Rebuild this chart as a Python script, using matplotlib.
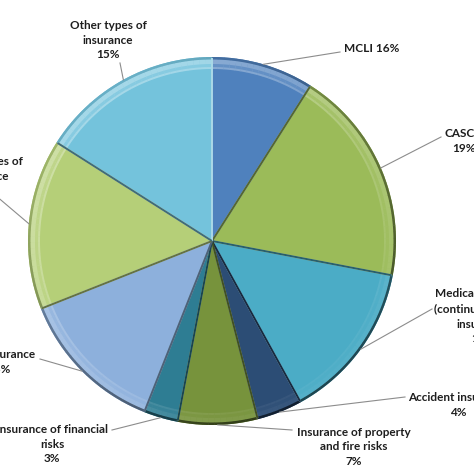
import matplotlib
matplotlib.use("Agg")
import matplotlib.pyplot as plt
from matplotlib.patches import Wedge
import matplotlib.colors as mcolors
import numpy as np

# ---- data ----
categories = ["MCLI", "CASCO", "Medical insurance", "Accident insurance",
              "Insurance of property and fire risks", "Insurance of financial risks",
              "Life insurance", "Other types of insurance (2)", "Other types of insurance"]
shares = [9, 19, 14, 4, 7, 3, 13, 15, 16]
label_texts = ["MCLI 16%",
               "CASCO\n19%",
               "Medical insurance\n(continuous health\ninsurance)\n14%",
               "Accident insurance\n4%",
               "Insurance of property\nand fire risks\n7%",
               "Insurance of financial\nrisks\n3%",
               "Life insurance\n13%",
               "Other types of\ninsurance\n9%",
               "Other types of\ninsurance\n15%"]
colors = ["#4F81BD", "#9BBB59", "#4BACC6", "#2C4D75", "#77933C",
          "#2E7D93", "#8DB0DC", "#B5CF78", "#74C3DC"]

# ---- layout (image pixel coordinates, y downward) ----
W = 474
CX, CY, R = 212, 241, 184
label_pos = [(372, 48), (464, 141), (483, 316), (458, 405), (354, 447),
             (52, 444), (-1, 362), (-16, 176), (108, 40)]
leader_end = [(340, 52), (441, 137), (432, 309), (405, 397), (292, 430),
              (112, 430), (40, 359), (-5, 195), (120, 63)]

fig = plt.figure(figsize=(4.74, 4.74), dpi=100)
ax = fig.add_axes([0, 0, 1, 1])

def Y(y):
    return W - y

def shade(c, f):
    rgb = np.array(mcolors.to_rgb(c))
    if f > 0:
        return tuple(rgb + (1 - rgb) * f)
    return tuple(rgb * (1 + f))

wedges, _ = ax.pie(shares, startangle=90, counterclock=False,
                   center=(CX, Y(CY)), radius=R, colors=colors,
                   wedgeprops=dict(linewidth=0))

ctr = (CX, Y(CY))
for w, c in zip(wedges, colors):
    t1, t2 = w.theta1, w.theta2
    n = max(2, int(np.ceil((t2 - t1) / 2.0)))
    edges = np.linspace(t1, t2, n + 1)
    for a0, a1 in zip(edges[:-1], edges[1:]):
        am = np.deg2rad((a0 + a1) / 2)
        light = (np.cos(am - np.deg2rad(125)) + 1) / 2  # 1 at upper-left
        ax.add_patch(Wedge(ctr, R - 2, a0 - 0.05, a1 + 0.05, width=10,
                           facecolor=shade(c, 0.05 + 0.3 * light), edgecolor="none", zorder=3))
        ax.add_patch(Wedge(ctr, R - 7, a0 - 0.05, a1 + 0.05, width=3,
                           facecolor=shade(c, 0.02 + 0.12 * light), edgecolor="none", zorder=3))
        ax.add_patch(Wedge(ctr, R, a0 - 0.05, a1 + 0.05, width=2.5,
                           facecolor=shade(c, -0.6 + 0.5 * light), edgecolor="none", zorder=4))
    # radial edges: highlight on one side, shadow on the other
    for t, f in ((t1, 0.4), (t2, -0.45)):
        a = np.deg2rad(t)
        ax.plot([CX, CX + (R - 1) * np.cos(a)], [Y(CY), Y(CY) + (R - 1) * np.sin(a)],
                color=shade(c, f), lw=1.4, zorder=5, solid_capstyle="butt")

for w, txt, (lx, ly), (ex, ey) in zip(wedges, label_texts, label_pos, leader_end):
    a = np.deg2rad((w.theta1 + w.theta2) / 2)
    sx, sy = CX + R * np.cos(a), Y(CY) + R * np.sin(a)
    ax.plot([sx, ex], [sy, Y(ey)], color="#8C8C8C", lw=0.8, zorder=6)
    ax.text(lx, Y(ly), txt, ha="center", va="center", multialignment="center",
            fontsize=8.5, fontweight="bold", family="Lato", color="#1E1E1E",
            linespacing=1.42, zorder=7)

ax.set_xlim(0, W)
ax.set_ylim(0, W)
ax.set_aspect("equal")
ax.axis("off")
fig.savefig("out.png", dpi=100)
